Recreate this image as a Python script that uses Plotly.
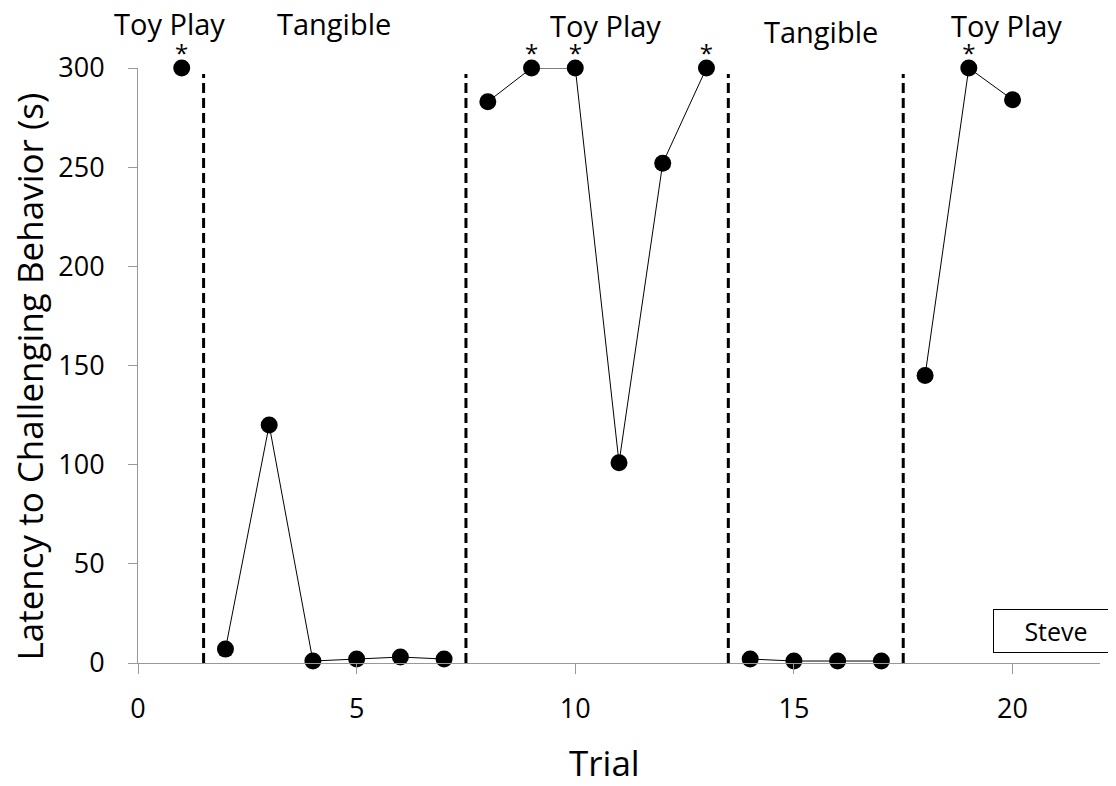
import plotly.graph_objects as go

# phases of the reversal design
phase_names = ["Toy Play", "Tangible", "Toy Play", "Tangible", "Toy Play"]
phase_trials = [
    [1],
    [2, 3, 4, 5, 6, 7],
    [8, 9, 10, 11, 12, 13],
    [14, 15, 16, 17],
    [18, 19, 20],
]
phase_latency = [
    [300],
    [7, 120, 1, 2, 3, 2],
    [283, 300, 300, 101, 252, 300],
    [2, 1, 1, 1],
    [145, 300, 284],
]
phase_label_x = [0.72, 4.49, 10.7, 15.62, 19.87]
phase_label_y = [1.074, 1.074, 1.071, 1.062, 1.071]
phase_changes = [1.5, 7.5, 13.5, 17.5]
# trials that hit the 300 s ceiling
star_trials = [1, 9, 10, 13, 19]
star_values = [300, 300, 300, 300, 300]

font = "Open Sans"

fig = go.Figure()
for trials, vals in zip(phase_trials, phase_latency):
    fig.add_trace(
        go.Scatter(
            x=trials,
            y=vals,
            mode="lines+markers",
            line=dict(color="black", width=1),
            marker=dict(color="black", size=17),
            cliponaxis=False,
        )
    )

fig.add_trace(
    go.Scatter(
        x=star_trials,
        y=star_values,
        mode="text",
        text=["*"] * len(star_trials),
        textposition="top center",
        textfont=dict(family=font, size=24, color="black"),
        cliponaxis=False,
    )
)

for xc in phase_changes:
    fig.add_shape(
        type="line",
        x0=xc,
        x1=xc,
        y0=0,
        y1=297,
        xref="x",
        yref="y",
        line=dict(color="black", width=3, dash="10px,5px"),
    )

for name, lx, ly in zip(phase_names, phase_label_x, phase_label_y):
    fig.add_annotation(
        x=lx,
        y=ly,
        xref="x",
        yref="paper",
        yanchor="middle",
        text=name,
        showarrow=False,
        font=dict(family=font, size=29, color="black"),
    )

fig.add_annotation(
    x=21.0,
    y=16,
    xref="x",
    yref="y",
    text="Steve",
    showarrow=False,
    font=dict(family=font, size=25, color="black"),
    bordercolor="black",
    borderwidth=1,
    width=122,
    height=40,
    bgcolor="white",
)

# axis titles placed as annotations to match the original positions
fig.add_annotation(
    x=10.66,
    y=-0.168,
    xref="x",
    yref="paper",
    yanchor="middle",
    text="Trial",
    showarrow=False,
    font=dict(family=font, size=35, color="black"),
)
fig.add_annotation(
    x=-0.113,
    y=0.482,
    xref="paper",
    yref="paper",
    xanchor="center",
    yanchor="middle",
    textangle=-90,
    text="Latency to Challenging Behavior (s)",
    showarrow=False,
    font=dict(family=font, size=35, color="black"),
)

fig.update_xaxes(
    range=[0, 22],
    tickvals=[0, 5, 10, 15, 20],
    ticks="outside",
    ticklen=10,
    tickcolor="#999999",
    showline=True,
    linecolor="#999999",
    showgrid=False,
    zeroline=False,
    ticklabelstandoff=12,
    tickfont=dict(family=font, size=27, color="black"),
)
fig.update_yaxes(
    range=[0, 300],
    tickvals=[0, 50, 100, 150, 200, 250, 300],
    ticks="outside",
    ticklen=9,
    tickcolor="#999999",
    showline=True,
    linecolor="#999999",
    showgrid=False,
    zeroline=False,
    ticklabelstandoff=18,
    tickfont=dict(family=font, size=27, color="black"),
)

fig.update_layout(
    width=1116,
    height=786,
    showlegend=False,
    template="plotly_white",
    plot_bgcolor="white",
    paper_bgcolor="white",
    margin=dict(l=130, r=24, t=60, b=131, autoexpand=False),
)

fig.write_html("out.html")
